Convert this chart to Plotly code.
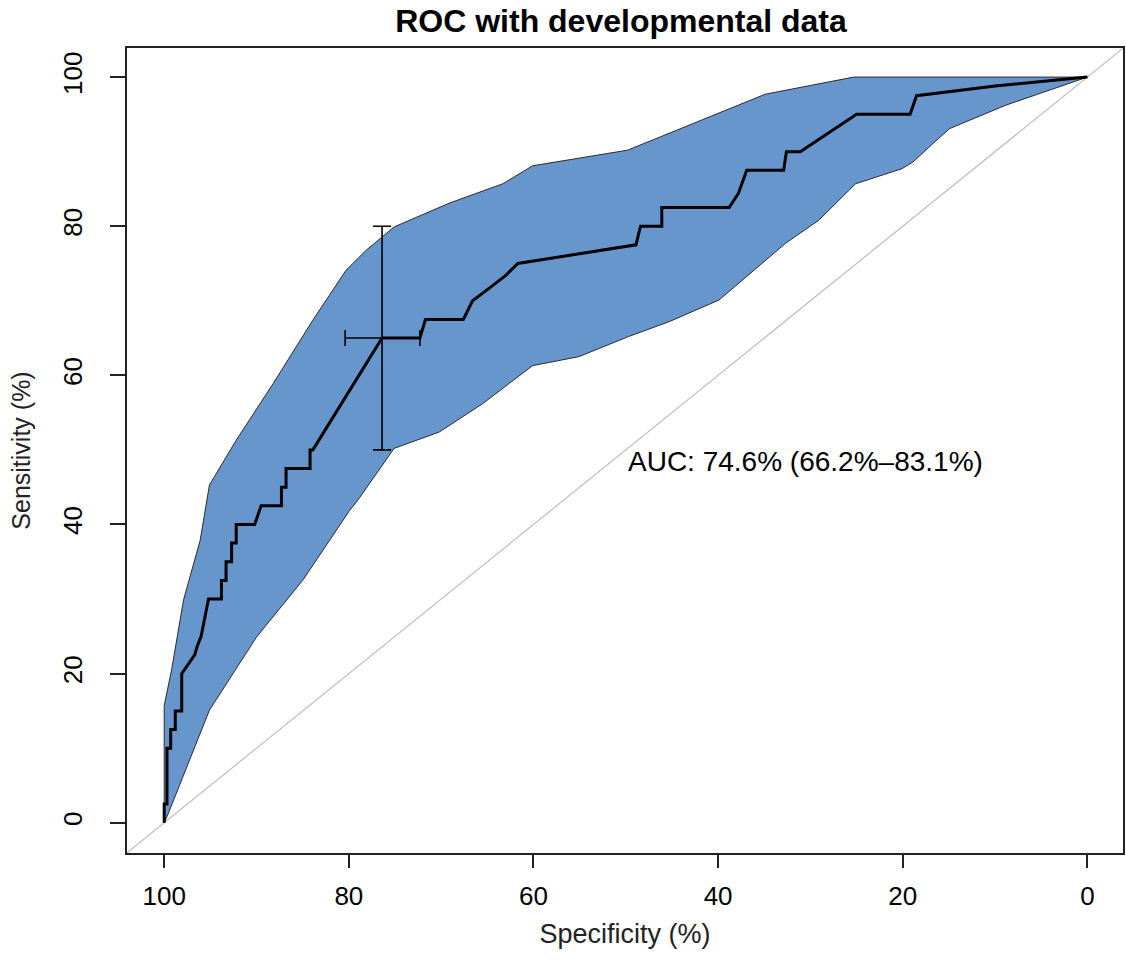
import plotly.graph_objects as go

# ---- data ----
roc_spec = [100, 100, 99.7, 99.7, 99.3, 99.3, 98.8, 98.8, 98.1, 98.1, 96.7, 96.4, 96.0, 95.6, 95.2,
            93.8, 93.8, 93.3, 93.3, 92.7, 92.7, 92.2, 92.2, 90.2, 89.5, 87.3, 87.3, 86.8, 86.8,
            84.2, 84.2, 83.9, 76.4, 72.3, 72.0, 71.7, 67.6, 66.6, 65.1, 63.0, 61.7, 48.9, 48.4,
            46.1, 46.1, 38.8, 37.8, 36.9, 32.9, 32.6, 31.1, 25.0, 19.2, 18.5, 10.0, 0]
roc_sens = [0, 2.5, 2.5, 10, 10, 12.5, 12.5, 15, 15, 20, 22.5, 23.75, 25, 27.5, 30,
            30, 32.5, 32.5, 35, 35, 37.5, 37.5, 40, 40, 42.5, 42.5, 45, 45, 47.5,
            47.5, 50, 50, 65, 65, 66.3, 67.5, 67.5, 70, 71.4, 73.4, 75, 77.5, 80,
            80, 82.5, 82.5, 84.4, 87.5, 87.5, 90, 90, 95, 95, 97.5, 98.8, 100]

ci_upper_spec = [100, 100, 99.2, 97.9, 96.1, 95.1, 92.2, 88.2, 83.9, 80.3, 78.1, 75.1, 69.1,
                 63.3, 60.1, 52.9, 49.8, 34.9, 25.3, 0]
ci_upper_sens = [0, 15.7, 20.5, 29.9, 37.9, 45.3, 51.3, 58.9, 67.4, 74.1, 76.8, 79.9, 83.1,
                 85.7, 88.1, 89.5, 90.2, 97.7, 100, 100]

ci_lower_spec = [100, 99.7, 95.1, 90.0, 85.0, 79.9, 79.0, 75.1, 70.2, 65.5, 60.1, 55.1, 49.7,
                 45.3, 39.9, 37.8, 32.7, 29.1, 25.1, 20.1, 18.9, 16.1, 14.9, 8.9, 0]
ci_lower_sens = [0, 0.8, 15.1, 24.9, 32.5, 41.9, 43.3, 50.2, 52.4, 56.2, 61.3, 62.5, 65.2,
                 67.2, 70.1, 72.3, 77.7, 80.8, 85.7, 87.7, 88.6, 91.8, 93.1, 96.2, 100]

thr_spec = 76.4
thr_sens = 65.0
thr_spec_ci = [72.3, 80.4]
thr_sens_ci = [50.0, 80.0]

auc_text = "AUC: 74.6% (66.2%–83.1%)"
title_text = "ROC with developmental data"
tick_vals = [0, 20, 40, 60, 80, 100]

x_range = [104.03, -3.86]
y_range = [-4.06, 103.9]

FONT = "Liberation Sans, Arial, Helvetica, sans-serif"
BAND = "#6696CC"

fig = go.Figure()

# identity line (drawn first, under the band)
fig.add_trace(go.Scatter(
    x=x_range, y=[100 - v for v in x_range], mode="lines",
    line=dict(color="#BEBEBE", width=1.2), hoverinfo="skip", showlegend=False))

# CI band
band_x = ci_upper_spec + ci_lower_spec[::-1]
band_y = ci_upper_sens + ci_lower_sens[::-1]
fig.add_trace(go.Scatter(
    x=band_x, y=band_y, mode="lines", fill="toself", fillcolor=BAND,
    line=dict(color="#2a2a2a", width=1), hoverinfo="skip", showlegend=False))

# ROC curve
fig.add_trace(go.Scatter(
    x=roc_spec, y=roc_sens, mode="lines",
    line=dict(color="black", width=3), showlegend=False))

# threshold CI error bars
fig.add_trace(go.Scatter(
    x=[thr_spec], y=[thr_sens], mode="markers",
    marker=dict(size=1, color="black"),
    error_y=dict(type="data", symmetric=False,
                 array=[thr_sens_ci[1] - thr_sens], arrayminus=[thr_sens - thr_sens_ci[0]],
                 color="black", thickness=1.6, width=9),
    error_x=dict(type="data", symmetric=False,
                 array=[thr_spec_ci[1] - thr_spec], arrayminus=[thr_spec - thr_spec_ci[0]],
                 color="black", thickness=1.6, width=8),
    showlegend=False))

fig.add_annotation(x=50, y=48.4, xref="x", yref="y", text=auc_text, showarrow=False,
                   xanchor="left", yanchor="middle",
                   font=dict(family=FONT, size=28, color="black"))

axis_common = dict(
    showgrid=False, zeroline=False, showline=True, mirror=True,
    linecolor="#222222", linewidth=1.5, ticks="outside", tickcolor="#222222",
    tickwidth=1.5, tickvals=tick_vals, ticktext=[str(v) for v in tick_vals],
    tickfont=dict(family=FONT, size=26, color="black"),
)

W, H = 1126, 960
fig.update_layout(
    width=W, height=H,
    margin=dict(l=127, r=1, t=48, b=107),
    paper_bgcolor="white", plot_bgcolor="white",
    title=dict(text="<b>" + title_text + "</b>", x=621 / W, xanchor="center",
               y=1 - 21 / H, yanchor="middle", yref="container",
               font=dict(family=FONT, size=32, color="black")),
    xaxis=dict(range=x_range, ticklen=13, ticklabelstandoff=6,
               title=dict(text="Specificity (%)", standoff=14,
                          font=dict(family=FONT, size=27, color="#222")),
               **axis_common),
    yaxis=dict(range=y_range, ticklen=15, tickangle=-90, ticklabelstandoff=18,
               title=dict(text="Sensitivity (%)", standoff=20,
                          font=dict(family=FONT, size=25, color="#222")),
               **axis_common),
)

# remove the default 8px page margin so the figure fills the window exactly
fig.write_html("out.html", config={"displayModeBar": False},
               post_script="document.body.style.margin='0px';document.body.style.overflow='hidden';")
